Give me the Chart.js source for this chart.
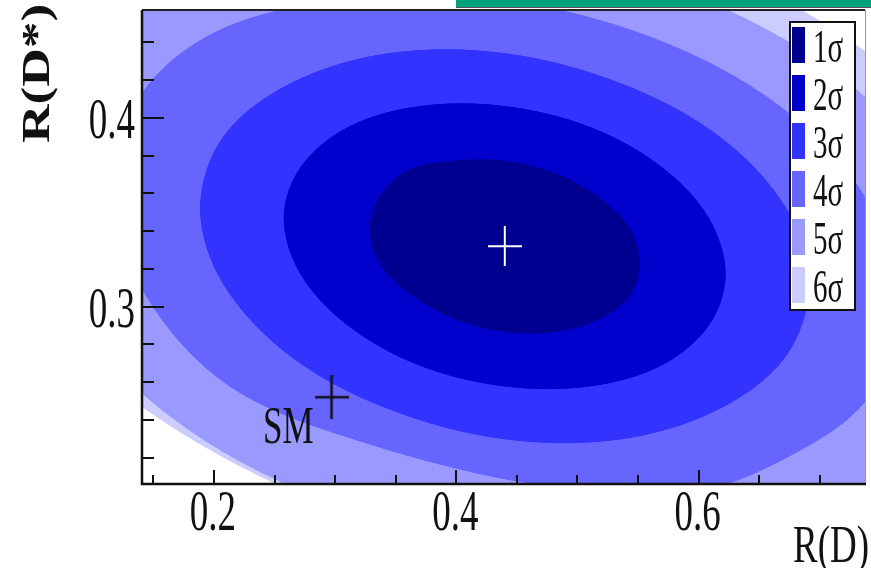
<!DOCTYPE html>
<html>
<head>
<meta charset="utf-8">
<script src="https://cdn.jsdelivr.net/npm/chart.js@4.4.0/dist/chart.umd.min.js"></script>
<style>
  html, body { margin: 0; padding: 0; background: #fff; }
  #chart { display: block; }
</style>
</head>
<body>
<canvas id="chart" width="871" height="568"></canvas>
<script>
// --- Data ---
const sigmaLabels = ['1σ', '2σ', '3σ', '4σ', '5σ', '6σ'];
const sigmaColors = ['#000090', '#0000cc', '#3333ff', '#6666ff', '#9999ff', '#ccccff'];

// contour outlines, [R(D), R(D*)] going round each region
const contour1 = [[0.551,0.323],[0.543,0.306],[0.519,0.294],[0.483,0.287],[0.440,0.287],[0.398,0.294],[0.362,0.307],[0.337,0.323],
                  [0.329,0.341],[0.337,0.358],[0.360,0.372],[0.398,0.377],[0.440,0.377],[0.483,0.370],[0.519,0.357],[0.543,0.341]];
const contour2 = [[0.622,0.317],[0.608,0.290],[0.569,0.269],[0.510,0.258],[0.440,0.258],[0.370,0.269],[0.311,0.290],[0.272,0.317],
                  [0.258,0.347],[0.272,0.374],[0.311,0.395],[0.370,0.406],[0.440,0.406],[0.510,0.395],[0.569,0.374],[0.608,0.347]];
const contour3 = [[0.691,0.312],[0.672,0.274],[0.617,0.246],[0.536,0.230],[0.440,0.230],[0.344,0.246],[0.263,0.274],[0.208,0.312],
                  [0.189,0.352],[0.208,0.390],[0.263,0.418],[0.344,0.434],[0.440,0.434],[0.536,0.418],[0.617,0.390],[0.672,0.352]];
const contour4 = [[0.761,0.306],[0.742,0.254],[0.675,0.221],[0.590,0.2015],[0.470,0.2055],[0.325,0.228],[0.213,0.258],[0.144,0.306],
                  [0.119,0.358],[0.140,0.412],[0.207,0.447],[0.317,0.463],[0.440,0.462],[0.563,0.442],[0.667,0.406],[0.737,0.358]];
const contour5 = [[0.831,0.300],[0.801,0.242],[0.716,0.198],[0.590,0.174],[0.440,0.174],[0.290,0.198],[0.164,0.242],[0.079,0.301],
                  [0.049,0.364],[0.075,0.428],[0.160,0.476],[0.290,0.494],[0.440,0.490],[0.590,0.466],[0.716,0.422],[0.801,0.363]];
const contour6 = [[0.873,0.297],[0.840,0.232],[0.746,0.183],[0.606,0.158],[0.440,0.163],[0.290,0.195],[0.150,0.243],[0.050,0.300],
                  [0.007,0.367],[0.040,0.432],[0.134,0.481],[0.274,0.508],[0.440,0.508],[0.606,0.481],[0.746,0.431],[0.840,0.367]];
const contours = [contour1, contour2, contour3, contour4, contour5, contour6];

const bestFit = { x: 0.440, y: 0.332 };
const smPoint = { x: 0.297, y: 0.252 };

const xRange = [0.1406, 0.7373];
const yRange = [0.2060, 0.4572];
const xMajorTicks = [0.2, 0.4, 0.6];
const xMinorTicks = [0.15, 0.25, 0.3, 0.35, 0.45, 0.5, 0.55, 0.65, 0.7];
const yMajorTicks = [0.3, 0.4];
const yMinorTicks = [0.22, 0.24, 0.26, 0.28, 0.32, 0.34, 0.36, 0.38, 0.42, 0.44];

// --- Helpers ---
const SERIF = '"Liberation Serif", "Times New Roman", serif';
const INK = '#111';

function makeCross(w, h, color, lw) {
    const c = document.createElement('canvas');
    c.width = w; c.height = h;
    const g = c.getContext('2d');
    g.strokeStyle = color;
    g.lineWidth = lw;
    g.beginPath();
    g.moveTo(0, h / 2); g.lineTo(w, h / 2);
    g.moveTo(w / 2, 0); g.lineTo(w / 2, h);
    g.stroke();
    return c;
}

// go round the outline twice so the spline ends leave no notch in the fill
function loopPoints(pts) {
    return pts.concat(pts, [pts[0]]).map(p => ({ x: p[0], y: p[1] }));
}

// the reference is squashed sideways, so text is drawn stretched vertically
function tallText(ctx, text, x, y, size, k, align, weight) {
    ctx.save();
    ctx.translate(x, y);
    ctx.scale(1, k);
    ctx.font = (weight || '') + ' ' + size + 'px ' + SERIF;
    ctx.textAlign = align;
    ctx.textBaseline = 'alphabetic';
    ctx.fillStyle = INK;
    ctx.fillText(text, 0, 0);
    ctx.restore();
}

// --- Frame, ticks, labels, legend ---
const decorPlugin = {
    id: 'decor',
    afterDraw(chart) {
        const ctx = chart.ctx;
        const { left, right, top, bottom } = chart.chartArea;
        const xs = chart.scales.x, ys = chart.scales.y;

        // green strip at the very top
        ctx.fillStyle = '#00a07c';
        ctx.fillRect(456, 0, 415, 7);
        ctx.fillStyle = '#555';
        ctx.fillRect(456, 7, 415, 1);

        // frame
        ctx.strokeStyle = '#999';
        ctx.lineWidth = 1;
        ctx.beginPath();
        ctx.moveTo(right + 0.5, top); ctx.lineTo(right + 0.5, bottom);
        ctx.stroke();
        ctx.strokeStyle = '#222';
        ctx.lineWidth = 2;
        ctx.beginPath();
        ctx.moveTo(left, top); ctx.lineTo(right, top);
        ctx.stroke();
        ctx.strokeStyle = INK;
        ctx.lineWidth = 2.5;
        ctx.beginPath();
        ctx.moveTo(left, top); ctx.lineTo(left, bottom); ctx.lineTo(right + 1, bottom);
        ctx.stroke();

        // ticks (pointing inward)
        ctx.lineWidth = 2;
        ctx.beginPath();
        xMajorTicks.forEach(v => { const p = Math.round(xs.getPixelForValue(v)); ctx.moveTo(p, bottom); ctx.lineTo(p, bottom - 14); });
        xMinorTicks.forEach(v => { const p = Math.round(xs.getPixelForValue(v)); ctx.moveTo(p, bottom); ctx.lineTo(p, bottom - 9); });
        yMajorTicks.forEach(v => { const p = Math.round(ys.getPixelForValue(v)); ctx.moveTo(left, p); ctx.lineTo(left + 22, p); });
        yMinorTicks.forEach(v => { const p = Math.round(ys.getPixelForValue(v)); ctx.moveTo(left, p); ctx.lineTo(left + 12, p); });
        ctx.stroke();

        // tick labels
        xMajorTicks.forEach(v => tallText(ctx, v.toFixed(1), xs.getPixelForValue(v) - 1, 530, 37, 1.55, 'center'));
        yMajorTicks.forEach(v => tallText(ctx, v.toFixed(1), 135, ys.getPixelForValue(v) + 20, 37, 1.55, 'right'));

        // axis titles
        tallText(ctx, 'R(D)', 869, 562, 37, 1.42, 'right');
        ctx.save();
        ctx.translate(49, 143);
        ctx.rotate(-Math.PI / 2);
        ctx.scale(1.3, 1);
        ctx.font = 'bold 41px ' + SERIF;
        ctx.textAlign = 'left';
        ctx.textBaseline = 'alphabetic';
        ctx.fillStyle = INK;
        ctx.fillText('R(D*)', 0, 0);
        ctx.restore();

        // SM label next to its cross
        const smx = xs.getPixelForValue(smPoint.x), smy = ys.getPixelForValue(smPoint.y);
        tallText(ctx, 'SM', smx - 18, smy + 46, 35, 1.52, 'right');

        // legend
        const lx = 790, ly = 22, lw = 65, lh = 288;
        ctx.fillStyle = '#fff';
        ctx.fillRect(lx, ly, lw, lh);
        sigmaLabels.forEach((lab, i) => {
            const ty = ly + 5 + 48 * i;
            ctx.fillStyle = sigmaColors[i];
            ctx.fillRect(lx + 2, ty, 13, 36);
            tallText(ctx, lab, lx + 23, ty + 35, 29, 1.6, 'left');
        });
        ctx.strokeStyle = INK;
        ctx.lineWidth = 2;
        ctx.strokeRect(lx, ly, lw, lh);
    }
};

// --- Chart ---
const contourSets = contours.map((pts, i) => ({
    label: sigmaLabels[i],
    data: loopPoints(pts),
    backgroundColor: sigmaColors[i],
    borderColor: sigmaColors[i],
    borderWidth: 1,
    fill: 'shape',
    tension: 0.34,
    pointRadius: 0,
    order: 10 + i
}));

const whiteCross = makeCross(34, 40, '#fff', 2);
const blackCross = makeCross(34, 44, INK, 2.5);

new Chart(document.getElementById('chart'), {
    type: 'line',
    data: {
        datasets: [
            { label: 'fit', data: [bestFit], showLine: false, pointStyle: whiteCross, pointRadius: 5, order: 0 },
            { label: 'SM', data: [smPoint], showLine: false, pointStyle: blackCross, pointRadius: 5, order: 1 },
            ...contourSets
        ]
    },
    options: {
        responsive: false,
        animation: false,
        devicePixelRatio: 1,
        events: [],
        layout: { padding: { left: 142, top: 10, right: 3, bottom: 84 } },
        elements: { line: { capBezierPoints: false } },
        scales: {
            x: { type: 'linear', min: xRange[0], max: xRange[1], display: false },
            y: { type: 'linear', min: yRange[0], max: yRange[1], display: false }
        },
        plugins: {
            legend: { display: false },
            tooltip: { enabled: false }
        }
    },
    plugins: [decorPlugin]
});
</script>
</body>
</html>
